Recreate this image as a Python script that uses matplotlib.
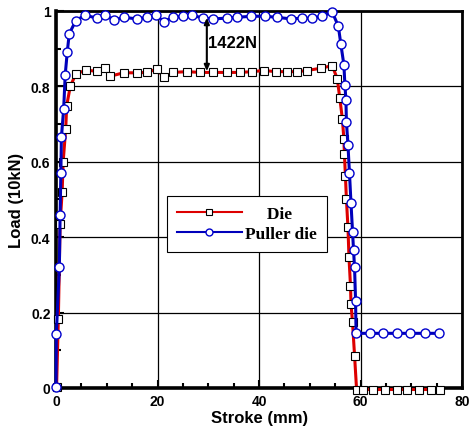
import matplotlib
matplotlib.use("Agg")
import matplotlib.pyplot as plt
from matplotlib.ticker import MultipleLocator

# ---------------- data ----------------
die_x = [0.1, 0.45, 0.8, 1.2, 1.4, 1.9, 2.1, 2.8,
         3.9, 5.9, 8.0, 9.7, 10.7, 13.3, 15.9, 17.9, 19.9, 21.2, 23.1, 25.8, 28.4,
         31.0, 33.7, 36.3, 38.6, 40.9, 43.4, 45.5, 47.5, 49.4, 52.1, 54.4,
         55.4, 55.9, 56.4, 56.7, 56.8, 57.0, 57.2, 57.5, 57.7, 58.0, 58.1, 58.4, 58.8,
         59.2, 60.4, 62.5, 64.7, 67.1, 69.2, 71.5, 73.8, 75.7]
die_y = [0.002, 0.183, 0.435, 0.52, 0.60, 0.687, 0.749, 0.80,
         0.833, 0.843, 0.840, 0.849, 0.827, 0.836, 0.836, 0.837, 0.846, 0.824, 0.837, 0.839, 0.837,
         0.837, 0.837, 0.837, 0.839, 0.842, 0.839, 0.839, 0.839, 0.842, 0.848, 0.855,
         0.82, 0.768, 0.714, 0.66, 0.62, 0.563, 0.50, 0.426, 0.347, 0.271, 0.223, 0.174, 0.086,
         -0.004, -0.004, -0.004, -0.004, -0.004, -0.004, -0.004, -0.004, -0.004]

puller_x = [0.0, 0.05, 0.65, 0.8, 0.95, 1.05, 1.5, 1.8, 2.2, 2.6,
            3.9, 5.7, 8.0, 9.7, 11.4, 13.4, 15.9, 18.0, 19.6, 21.2, 23.0, 25.1, 26.8, 28.9,
            31.0, 33.7, 35.6, 38.5, 41.2, 43.6, 46.2, 48.5, 50.5, 52.3, 54.4,
            55.6, 56.1, 56.7, 56.9, 57.1, 57.2, 57.5, 57.8, 58.1, 58.4, 58.6, 58.8, 59.0, 59.1,
            61.8, 64.4, 67.1, 69.8, 72.6, 75.5]
puller_y = [0.003, 0.143, 0.32, 0.46, 0.57, 0.665, 0.74, 0.83, 0.89, 0.94,
            0.974, 0.989, 0.981, 0.989, 0.976, 0.983, 0.979, 0.983, 0.989, 0.972, 0.983, 0.986, 0.989, 0.981,
            0.979, 0.981, 0.983, 0.986, 0.986, 0.983, 0.979, 0.981, 0.981, 0.986, 0.997,
            0.96, 0.912, 0.857, 0.804, 0.764, 0.706, 0.645, 0.57, 0.49, 0.415, 0.366, 0.32, 0.232, 0.145,
            0.145, 0.145, 0.145, 0.145, 0.145, 0.145]

x_ticks = [0, 20, 40, 60, 80]
x_tick_labels = ["0", "20", "40", "60", "80"]
y_ticks = [0, 0.2, 0.4, 0.6, 0.8, 1.0]
y_tick_labels = ["0", "0.2", "0.4", "0.6", "0.8", "1"]

# annotation: difference between the two plateaus
gap_x = 29.7
gap_top = 0.982
gap_bottom = 0.840
gap_label = "1422N"

# ---------------- figure ----------------
fig = plt.figure(figsize=(4.75, 4.27), dpi=100)
ax = fig.add_axes([0.118, 0.089, 0.855, 0.883])

sans = ["Liberation Sans", "DejaVu Sans"]
serif = ["Liberation Serif", "DejaVu Serif"]

ax.plot(die_x, die_y, color="#dd0000", lw=2.2, marker="s", ms=5.5,
        mfc="white", mec="black", mew=0.8, label="     Die", clip_on=False, zorder=3)
ax.plot(puller_x, puller_y, color="#0000bb", lw=2.2, marker="o", ms=6.5,
        mfc="white", mec="#0000cc", mew=1.0, label="Puller die", clip_on=False, zorder=4)

ax.set_xlim(0, 80)
ax.set_ylim(0, 1)
ax.set_xticks(x_ticks, labels=x_tick_labels)
ax.set_yticks(y_ticks, labels=y_tick_labels)
ax.xaxis.set_minor_locator(MultipleLocator(5))
ax.yaxis.set_minor_locator(MultipleLocator(0.1))
ax.tick_params(which="both", direction="in", top=False, right=False, width=1.5, color="black")
ax.tick_params(which="major", length=6, pad=4)
ax.tick_params(which="minor", length=3.5)
for lab in ax.get_xticklabels() + ax.get_yticklabels():
    lab.set_family(sans)
    lab.set_fontweight("bold")
    lab.set_fontsize(10)

ax.grid(True, which="major", color="black", lw=0.9)
ax.set_axisbelow(True)
for s in ax.spines.values():
    s.set_linewidth(2.0)
ax.spines["bottom"].set_linewidth(2.6)
ax.spines["left"].set_linewidth(2.6)

ax.set_xlabel("Stroke (mm)", family=sans, fontweight="bold", fontsize=12, labelpad=2)
ax.set_ylabel("Load (10kN)", family=sans, fontweight="bold", fontsize=12, labelpad=5)

ax.annotate("", xy=(gap_x, gap_top), xytext=(gap_x, gap_bottom),
            arrowprops=dict(arrowstyle="<|-|>,head_length=0.35,head_width=0.15",
                            color="black", lw=1.5, shrinkA=0, shrinkB=0), zorder=5)
ax.text(gap_x + 0.3, (gap_top + gap_bottom) / 2 + 0.005, gap_label, family=sans,
        fontweight="bold", fontsize=12, ha="left", va="center", zorder=5)

leg = ax.legend(loc="upper left", bbox_to_anchor=(0.273, 0.51), borderaxespad=0,
                prop={"family": serif, "weight": "bold", "size": 12.5},
                handlelength=3.7, handletextpad=0.2, borderpad=0.6, labelspacing=0.2,
                numpoints=1, fancybox=False, framealpha=1, edgecolor="black")
leg.get_frame().set_linewidth(0.8)
for h in leg.legend_handles:
    h.set_markersize(5)
    h.set_linewidth(1.5)

fig.savefig("out.png", dpi=100)
